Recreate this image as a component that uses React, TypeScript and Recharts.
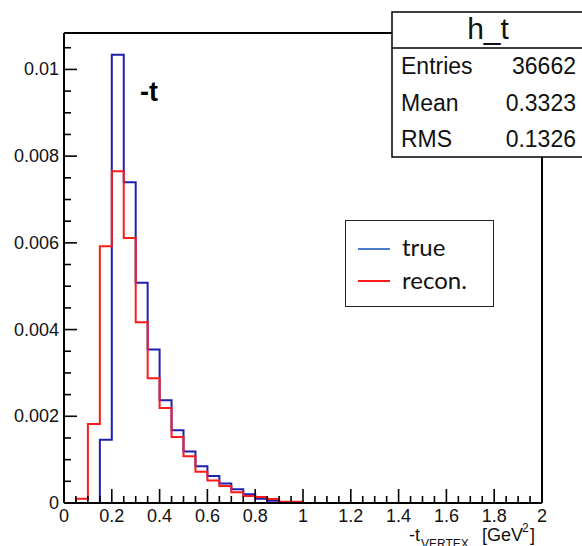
import React from 'react';
import { ComposedChart, Line, XAxis, YAxis, Legend } from 'recharts';

// bin lower edges of h_t (0.05 GeV^2 wide), plus the upper edge 2.0
const binEdges = [
  0, 0.05, 0.1, 0.15, 0.2, 0.25, 0.3, 0.35, 0.4, 0.45,
  0.5, 0.55, 0.6, 0.65, 0.7, 0.75, 0.8, 0.85, 0.9, 0.95,
  1, 1.05, 1.1, 1.15, 1.2, 1.25, 1.3, 1.35, 1.4, 1.45,
  1.5, 1.55, 1.6, 1.65, 1.7, 1.75, 1.8, 1.85, 1.9, 1.95, 2,
];

const trueCounts = [
  0, 0, 0, 0.00146, 0.01034, 0.0074, 0.00508, 0.00354, 0.00237, 0.00168,
  0.00119, 0.00085, 0.00062, 0.00045, 0.00032, 0.0002, 0.0001, 0.00005, 0.00002, 0.00002,
  0, 0, 0, 0, 0, 0, 0, 0, 0, 0,
  0, 0, 0, 0, 0, 0, 0, 0, 0, 0, 0,
];

const reconCounts = [
  0, 0.0001, 0.00182, 0.00592, 0.00765, 0.00611, 0.00417, 0.00288, 0.00219, 0.00152,
  0.00108, 0.00072, 0.00052, 0.00039, 0.00025, 0.00016, 0.00014, 0.00009, 0.00003, 0.00003,
  0, 0, 0, 0, 0, 0, 0, 0, 0, 0,
  0, 0, 0, 0, 0, 0, 0, 0, 0, 0, 0,
];

const xMajor = [0, 0.2, 0.4, 0.6, 0.8, 1, 1.2, 1.4, 1.6, 1.8, 2];
const yTicks = [
  0, 0.0005, 0.001, 0.0015, 0.002, 0.0025, 0.003, 0.0035, 0.004, 0.0045, 0.005,
  0.0055, 0.006, 0.0065, 0.007, 0.0075, 0.008, 0.0085, 0.009, 0.0095, 0.01, 0.0105,
];
const yMajor = [0, 0.002, 0.004, 0.006, 0.008, 0.01];
const yMax = 0.01084;

const stats = [
  { name: 'Entries', value: '36662' },
  { name: 'Mean', value: '0.3323' },
  { name: 'RMS', value: '0.1326' },
];

const data = binEdges.map((x, i) => ({ x, trueVal: trueCounts[i], recon: reconCounts[i] }));

const FONT = '"Liberation Sans", Arial, Helvetica, sans-serif';

const BottomTick = (props: any) => {
  const { x, y, payload } = props;
  const major = xMajor.includes(payload.value);
  return (
    <g>
      <line x1={x} y1={y} x2={x} y2={y - (major ? 14 : 7)} stroke="#000" strokeWidth={1.6} />
      {major && (
        <text x={x} y={y + 19} textAnchor="middle" fontSize={18} fontFamily={FONT} fill="#111">
          {payload.value}
        </text>
      )}
    </g>
  );
};

const LeftTick = (props: any) => {
  const { x, y, payload } = props;
  const major = yMajor.includes(payload.value);
  return (
    <g>
      <line x1={x} y1={y} x2={x + (major ? 13 : 7)} y2={y} stroke="#000" strokeWidth={1.6} />
      {major && (
        <text x={x - 5} y={y + 6} textAnchor="end" fontSize={18} fontFamily={FONT} fill="#111">
          {payload.value}
        </text>
      )}
    </g>
  );
};

const LegendBox = () => (
  <div
    style={{
      position: 'relative', width: 149, height: 87, boxSizing: 'border-box',
      border: '1.5px solid #222', background: '#fff', fontFamily: 'Lato, "Open Sans", sans-serif',
    }}
  >
    <div style={{ position: 'absolute', left: 12, top: 27, width: 32, height: 2, background: '#4a7cc8' }} />
    <div style={{ position: 'absolute', left: 56, top: 11, fontSize: 24, lineHeight: '30px', color: '#111' }}>true</div>
    <div style={{ position: 'absolute', left: 12, top: 59, width: 32, height: 2, background: '#ff1a1a' }} />
    <div style={{ position: 'absolute', left: 56, top: 44, fontSize: 24, lineHeight: '30px', color: '#111' }}>recon.</div>
  </div>
);

export default function App() {
  return (
    <div style={{ position: 'absolute', left: 0, top: 0, width: 582, height: 546, background: '#fff', overflow: 'hidden' }}>
      <ComposedChart width={582} height={546} data={data} margin={{ top: 32, right: 39, bottom: 13, left: 4 }}>
        <XAxis
          dataKey="x" type="number" domain={[0, 2]} ticks={binEdges} interval={0}
          height={30} tickSize={0} tickMargin={0} tick={<BottomTick />}
          axisLine={{ stroke: '#000', strokeWidth: 2 }}
        />
        <XAxis
          xAxisId="top" orientation="top" type="number" domain={[0, 2]} height={1}
          tick={false} tickLine={false} axisLine={{ stroke: '#000', strokeWidth: 2 }}
        />
        <YAxis
          type="number" domain={[0, yMax]} ticks={yTicks} interval={0} allowDataOverflow
          width={60} tickSize={0} tickMargin={0} tick={<LeftTick />}
          axisLine={{ stroke: '#000', strokeWidth: 2 }}
        />
        <YAxis
          yAxisId="right" orientation="right" type="number" domain={[0, yMax]} width={1}
          tick={false} tickLine={false} axisLine={{ stroke: '#000', strokeWidth: 2 }}
        />
        <Legend
          layout="vertical" align="center" verticalAlign="middle" content={<LegendBox />}
          wrapperStyle={{ left: 345, top: 220, width: 149, height: 87 }}
        />
        <Line
          type="stepAfter" dataKey="trueVal" name="true" stroke="#1f1fb0" strokeWidth={2}
          dot={false} activeDot={false} isAnimationActive={false}
        />
        <Line
          type="stepAfter" dataKey="recon" name="recon." stroke="#ff1a1a" strokeWidth={2}
          dot={false} activeDot={false} isAnimationActive={false}
        />
      </ComposedChart>
      <svg width={582} height={546} style={{ position: 'absolute', left: 0, top: 0, pointerEvents: 'none' }}>
        <text x={140} y={101} fontSize={27} fontWeight="bold" fontFamily={FONT} fill="#000">-t</text>
        <g fontFamily={FONT} fill="#111">
          <text x={409} y={541} fontSize={18}>-t</text>
          <text x={421} y={548} fontSize={12}>VERTEX</text>
          <text x={482} y={541} fontSize={18}>[GeV</text>
          <text x={522} y={532} fontSize={12}>2</text>
          <text x={530} y={541} fontSize={18}>]</text>
        </g>
        <rect x={392} y={12} width={200} height={145} fill="#fff" stroke="#000" strokeWidth={1.5} />
        <line x1={392} y1={48} x2={592} y2={48} stroke="#000" strokeWidth={1.5} />
        <text x={488} y={39} fontSize={30} textAnchor="middle" fontFamily={FONT} fill="#111">h_t</text>
        {stats.map((s, i) => (
          <g key={s.name} fontFamily={FONT} fontSize={23} fill="#111">
            <text x={401} y={74 + i * 36.5}>{s.name}</text>
            <text x={576} y={74 + i * 36.5} textAnchor="end">{s.value}</text>
          </g>
        ))}
      </svg>
    </div>
  );
}
